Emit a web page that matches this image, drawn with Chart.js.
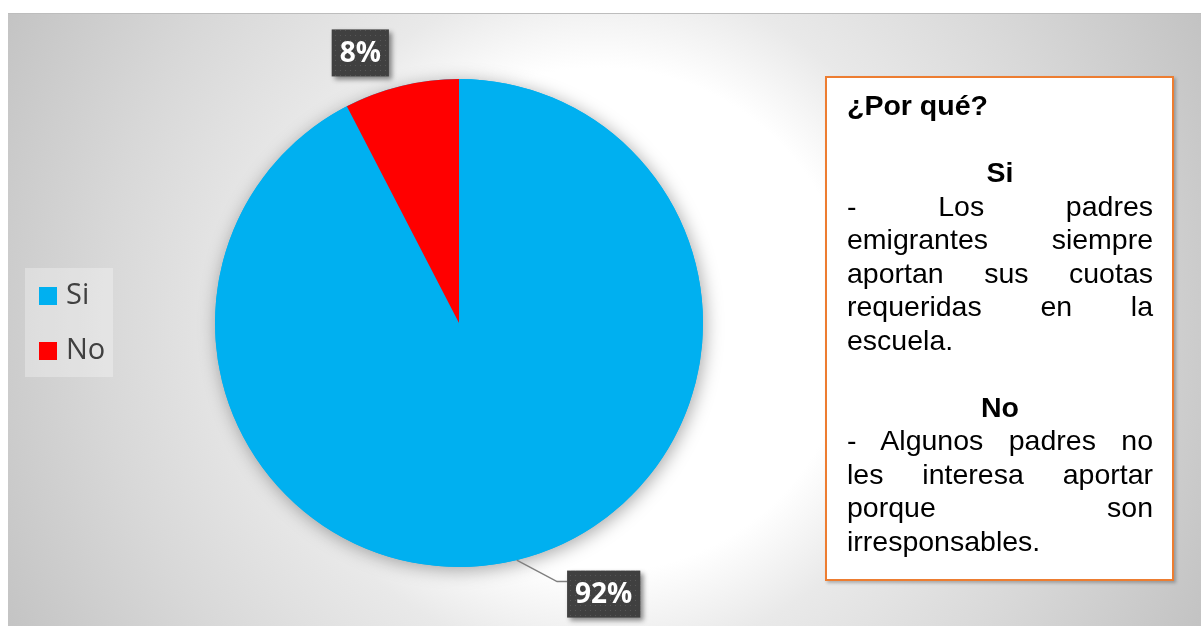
<!DOCTYPE html>
<html>
<head>
<meta charset="utf-8">
<script src="https://cdn.jsdelivr.net/npm/chart.js@4.4.1/dist/chart.umd.min.js"></script>
<style>
    html, body { margin: 0; padding: 0; background: #fff; width: 1201px; height: 626px; overflow: hidden; }
    #wrap { position: absolute; left: 8px; top: 13px; width: 1193px; height: 613px; }
    #note {
        position: absolute; left: 825px; top: 76px; width: 349px; height: 505px;
        box-sizing: border-box; border: 2px solid #ED7D31; background: #fff;
        padding: 11px 19px 0 20px;
        box-shadow: 2px 2px 3px rgba(0,0,0,0.25);
        font-family: "Liberation Sans", Arial, sans-serif; font-size: 28.5px; line-height: 33.5px; color: #000;
    }
    #note div { height: 33.5px; white-space: nowrap; }
    #note .b { font-weight: bold; }
    #note .c { text-align: center; }
    #note .j { text-align: justify; text-align-last: justify; }
</style>
</head>
<body>
<div id="wrap"><canvas id="pie" width="1193" height="613"></canvas></div>
<div id="note">
    <div class="b">¿Por qué?</div>
    <div></div>
    <div class="b c">Si</div>
    <div class="j">- Los padres</div>
    <div class="j">emigrantes siempre</div>
    <div class="j">aportan sus cuotas</div>
    <div class="j">requeridas en la</div>
    <div>escuela.</div>
    <div></div>
    <div class="b c">No</div>
    <div class="j">- Algunos padres no</div>
    <div class="j">les interesa aportar</div>
    <div class="j">porque son</div>
    <div>irresponsables.</div>
</div>
<script>
    "use strict";

    // Data (slice sizes, labels show rounded percent)
    var labels = ["Si", "No"];
    var values = [92.4, 7.6];
    var colors = ["#00B0F0", "#FF0000"];

    // label box placement relative to the slice edge (style only)
    var labelShift = [[87, 34], [-41, -33]];
    var showLeader = [true, false];

    // dotted dark fill for the data labels
    var dots = document.createElement("canvas");
    dots.width = 5; dots.height = 5;
    var dctx = dots.getContext("2d");
    dctx.fillStyle = "#404040";
    dctx.fillRect(0, 0, 5, 5);
    dctx.fillStyle = "#575757";
    dctx.fillRect(2, 2, 1, 1);

    var backdrop = {
        id: "backdrop",
        beforeDraw: function (chart) {
            var ctx = chart.ctx;
            var g = ctx.createRadialGradient(592, 307, 0, 592, 307, 700);
            g.addColorStop(0, "#ffffff");
            g.addColorStop(0.36, "#ffffff");
            g.addColorStop(0.49, "#e9e9e9");
            g.addColorStop(0.71, "#d8d8d8");
            g.addColorStop(0.96, "#c3c3c3");
            g.addColorStop(1, "#c0c0c0");
            ctx.save();
            ctx.fillStyle = g;
            ctx.fillRect(0, 0, chart.width, chart.height);
            ctx.fillStyle = "#bdbdbd";
            ctx.fillRect(0, 0, chart.width, 1);
            ctx.restore();
        },
        beforeDatasetsDraw: function (chart) {
            // soft shadow under the whole pie
            var arc = chart.getDatasetMeta(0).data[0];
            var ctx = chart.ctx;
            ctx.save();
            ctx.shadowColor = "rgba(0,0,0,0.35)";
            ctx.shadowBlur = 18;
            ctx.shadowOffsetX = 2;
            ctx.shadowOffsetY = 3;
            ctx.fillStyle = colors[0];
            ctx.beginPath();
            ctx.arc(arc.x, arc.y, arc.outerRadius, 0, Math.PI * 2);
            ctx.fill();
            ctx.restore();
        },
        afterDraw: function (chart) {
            var ctx = chart.ctx;
            var meta = chart.getDatasetMeta(0);
            var data = chart.data.datasets[0].data;
            var total = data.reduce(function (a, b) { return a + b; }, 0);
            ctx.save();

            // Legend
            ctx.fillStyle = "rgba(255,255,255,0.3)";
            ctx.fillRect(17, 255, 88, 109);
            ctx.font = '29px "Open Sans"';
            ctx.textBaseline = "middle";
            ctx.textAlign = "left";
            chart.data.labels.forEach(function (lab, i) {
                var y = 283 + i * 55;
                ctx.fillStyle = chart.data.datasets[0].backgroundColor[i];
                ctx.fillRect(31, y - 9, 18, 18);
                ctx.fillStyle = "#404040";
                ctx.fillText(lab, 58, y);
            });

            // Data labels
            ctx.font = 'bold 28px "Open Sans"';
            ctx.textAlign = "center";
            meta.data.forEach(function (arc, i) {
                var p = arc.getProps(["x", "y", "startAngle", "endAngle", "outerRadius"], true);
                var mid = (p.startAngle + p.endAngle) / 2;
                var ax = p.x + Math.cos(mid) * p.outerRadius;
                var ay = p.y + Math.sin(mid) * p.outerRadius;
                var cx = ax + labelShift[i][0];
                var cy = ay + labelShift[i][1];
                var txt = Math.round(data[i] / total * 100) + "%";
                var w = ctx.measureText(txt).width + 16;
                var h = 47;
                var bx = cx - w / 2, by = cy - h / 2;

                if (showLeader[i]) {
                    ctx.strokeStyle = "#7f7f7f";
                    ctx.lineWidth = 1.5;
                    ctx.beginPath();
                    ctx.moveTo(ax, ay);
                    ctx.lineTo(bx - 10, by + 11);
                    ctx.lineTo(bx, by + 11);
                    ctx.stroke();
                }

                ctx.save();
                ctx.shadowColor = "rgba(0,0,0,0.45)";
                ctx.shadowBlur = 5;
                ctx.shadowOffsetX = 3;
                ctx.shadowOffsetY = 3;
                ctx.fillStyle = ctx.createPattern(dots, "repeat");
                ctx.fillRect(bx, by, w, h);
                ctx.restore();

                ctx.fillStyle = "#ffffff";
                ctx.fillText(txt, cx, cy + 1);
            });
            ctx.restore();
        }
    };

    var ctx1 = document.getElementById("pie").getContext("2d");
    var myChart1 = new Chart(ctx1, {
        type: "pie",
        data: {
            labels: labels,
            datasets: [{
                data: values,
                backgroundColor: colors,
                borderWidth: 0,
                hoverOffset: 0,
                offset: 0
            }]
        },
        options: {
            responsive: false,
            animation: false,
            devicePixelRatio: 1,
            layout: { padding: { left: 207, right: 498, top: 66, bottom: 59 } },
            plugins: {
                legend: { display: false },
                tooltip: { enabled: false }
            }
        },
        plugins: [backdrop]
    });
</script>
</body>
</html>
